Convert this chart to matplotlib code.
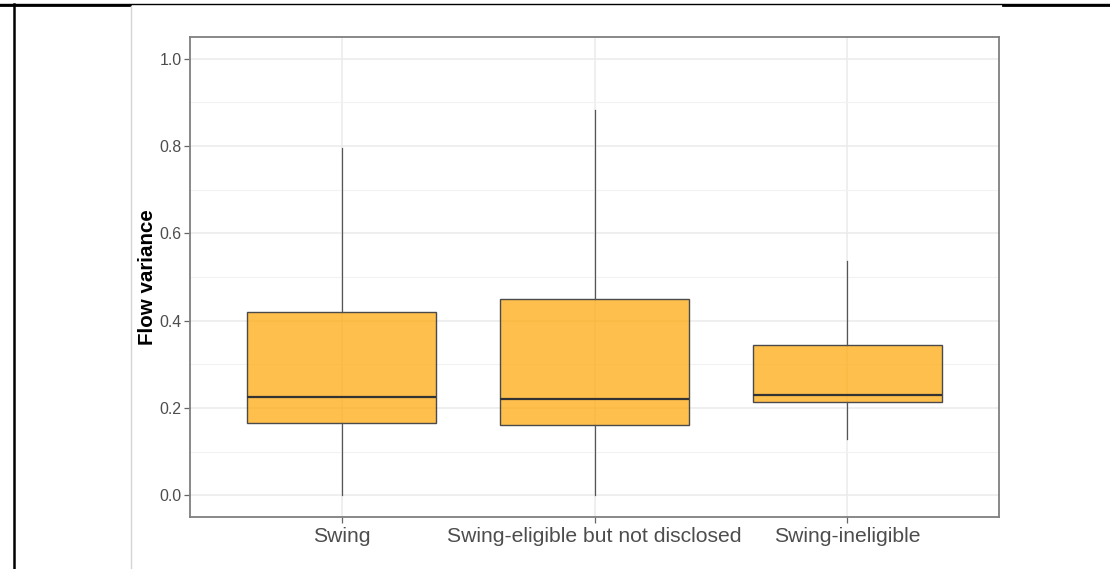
import matplotlib
matplotlib.use("Agg")
import matplotlib.pyplot as plt
from matplotlib.lines import Line2D
from matplotlib.ticker import MultipleLocator

plt.rcParams['font.family'] = ['Liberation Sans', 'DejaVu Sans']

# Box statistics per swing pricing group
categories = ["Swing", "Swing-eligible but not disclosed", "Swing-ineligible"]
whisker_low = [0.000, 0.000, 0.128]
q1 = [0.165, 0.161, 0.214]
median = [0.225, 0.221, 0.229]
q3 = [0.420, 0.450, 0.344]
whisker_high = [0.795, 0.883, 0.537]
y_ticks = [0.0, 0.2, 0.4, 0.6, 0.8, 1.0]
y_label = "Flow variance"

W, H = 1110, 569
fig = plt.figure(figsize=(W / 100, H / 100), dpi=100)

# Page frame: rules of the surrounding document table
frame = fig.add_axes([0, 0, 1, 1], zorder=-5)
frame.set_xlim(0, W)
frame.set_ylim(H, 0)
frame.axis("off")
frame.add_line(Line2D([0, W], [4.3, 4.3], color="black", lw=1.0))
frame.add_line(Line2D([0, 130], [4.8, 4.8], color="black", lw=2.0))
frame.add_line(Line2D([1003, W], [4.8, 4.8], color="black", lw=2.0))
frame.add_line(Line2D([13.5, 13.5], [4, H], color="black", lw=1.8))
frame.add_line(Line2D([131, 131], [5.5, H], color="#d4d4d4", lw=1.0))

left, right, top, bottom = 190, 999, 37, 517
ax = fig.add_axes([left / W, 1 - bottom / H, (right - left) / W, (bottom - top) / H])

stats = []
for i, name in enumerate(categories):
    stats.append(dict(label=name, whislo=whisker_low[i], q1=q1[i], med=median[i],
                      q3=q3[i], whishi=whisker_high[i], fliers=[]))

positions = list(range(1, len(categories) + 1))
ax.bxp(stats, positions=positions, widths=0.75, patch_artist=True, showcaps=False,
       showfliers=False,
       boxprops=dict(facecolor="#FFA500", edgecolor="#333333", linewidth=1.0),
       medianprops=dict(color="#333333", linewidth=1.6, solid_capstyle="butt"),
       whiskerprops=dict(color="#555555", linewidth=0.9),
       zorder=3)
# translucent fill, solid outline
for p in ax.patches:
    p.set_facecolor((1.0, 0.647, 0.0, 0.7))
    p.set_edgecolor("#4a4a4a")

ax.set_xlim(0.4, 3.6)
ax.set_ylim(-0.05, 1.05)
ax.set_xticks(positions)
ax.set_xticklabels(categories)
ax.set_yticks(y_ticks)
ax.set_yticklabels([f"{v:.1f}" for v in y_ticks])
ax.yaxis.set_minor_locator(MultipleLocator(0.1))

ax.grid(which="major", color="#ebebeb", linewidth=1.1, zorder=0)
ax.grid(which="minor", axis="y", color="#f2f2f2", linewidth=0.8, zorder=0)
ax.set_axisbelow(True)

for s in ax.spines.values():
    s.set_color("#7f7f7f")
    s.set_linewidth(1.3)

ax.tick_params(axis="y", which="major", length=4, width=0.9, color="#666666",
               labelcolor="#4d4d4d", labelsize=11.4, pad=2)
ax.tick_params(axis="y", which="minor", length=0)
ax.tick_params(axis="x", which="major", length=4, width=0.9, color="#666666",
               labelcolor="#4d4d4d", labelsize=15.2, pad=3)

ax.set_ylabel(y_label, fontsize=14.8, fontweight="bold", color="black", labelpad=1.5)

fig.savefig("out.png", dpi=100)
